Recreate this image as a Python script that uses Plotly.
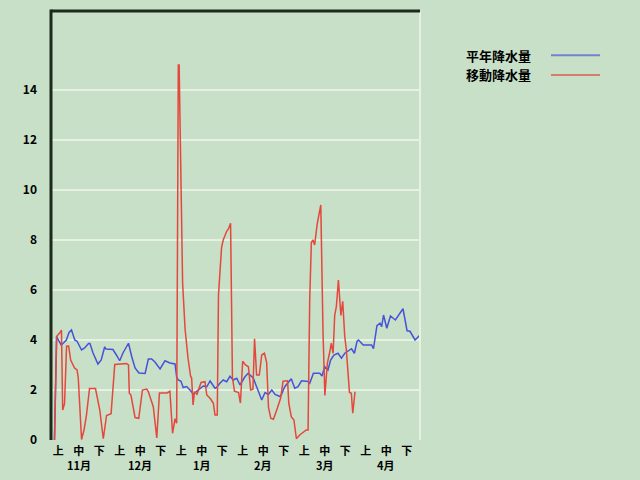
import plotly.graph_objects as go

# x = position along the Nov–Apr season (30 units per month, 10 per 上/中/下 dekad)
normal_x = [1.7, 2.7, 3.9, 5.0, 6.3, 7.5, 8.8, 10.0, 11.6, 12.7, 14.9, 16.4, 18.3, 19.0,
            20.5, 22.0, 22.9, 24.5, 26.2, 26.8, 29.6, 30.2, 31.9, 33.5, 35.1, 36.7, 37.8,
            39.4, 41.0, 42.9, 45.9, 47.5, 49.1, 50.7, 51.6, 53.2, 55.6, 57.2, 58.0, 60.5,
            61.3, 62.1, 63.4, 64.5, 66.2, 67.8, 68.6, 69.4, 71.1, 72.7, 74.3, 76.0, 77.6,
            80.0, 80.8, 82.4, 84.0, 85.7, 87.3, 88.9, 90.6, 92.2, 94.6, 96.2, 98.7, 100.3,
            102.8, 104.4, 106.0, 107.7, 109.3, 111.7, 112.3, 114.0, 117.2, 118.9, 120.5,
            122.2, 125.4, 126.2, 128.0, 131.1, 132.2, 133.5, 135.1, 136.4, 138.0, 140.0,
            141.7, 143.3, 145.0, 146.6, 148.0, 149.3, 150.0, 152.3, 156.4, 157.3, 159.0,
            160.5, 161.3, 162.2, 163.8, 165.6, 168.0, 171.7, 173.7, 175.1, 177.6, 179.2, 180.0]
normal_y = [0, 4.15, 3.95, 3.8, 3.9, 4.0, 4.3, 4.4, 4.0, 3.95, 3.6, 3.68, 3.86, 3.86,
            3.48, 3.2, 3.04, 3.2, 3.73, 3.64, 3.64, 3.62, 3.4, 3.17, 3.48, 3.68, 3.87,
            3.33, 2.88, 2.68, 2.66, 3.24, 3.24, 3.12, 3.0, 2.84, 3.17, 3.09, 3.08, 3.04,
            2.52, 2.4, 2.35, 2.1, 2.14, 2.0, 1.93, 1.84, 1.95, 2.06, 2.16, 2.13, 2.36,
            2.07, 2.1, 2.27, 2.4, 2.33, 2.55, 2.4, 2.47, 2.2, 2.53, 2.67, 2.47, 2.13,
            1.6, 1.9, 1.82, 2.0, 1.82, 1.74, 1.8, 2.13, 2.45, 2.07, 2.13,
            2.37, 2.34, 2.27, 2.67, 2.67, 2.56, 2.93, 2.8, 3.2, 3.4, 3.47,
            3.27, 3.47, 3.57, 3.65, 3.47, 3.95, 4.0, 3.8, 3.8, 3.65, 4.57,
            4.67, 4.53, 5.0, 4.47, 4.96, 4.8, 5.25, 4.37, 4.35, 4.0, 4.13, 4.2]

moving_x = [1.7, 2.8, 4.4, 5.1, 5.7, 6.6, 7.6, 8.6, 9.6, 11.5, 12.7, 13.3, 14.9, 16.1,
            17.2, 18.8, 21.7, 23.8, 25.5, 27.1, 29.3, 31.1, 36.8, 37.8, 38.2, 39.0, 41.0,
            42.8, 44.6, 46.7, 47.5, 49.9, 51.6, 52.9, 56.6, 58.0, 59.3, 60.5, 61.3, 62.1,
            62.5, 63.3, 64.2, 65.4, 66.8, 68.1, 68.6, 69.3, 70.0, 71.2, 71.9, 73.2, 75.1,
            76.0, 77.8, 79.2, 80.0, 81.1, 81.7, 83.2, 84.0, 85.7, 86.6, 87.6, 88.5, 89.5,
            91.5, 92.4, 93.5, 94.9, 96.3, 97.4, 98.5, 99.3, 100.3, 101.6, 102.8, 104.1,
            105.2, 106.1, 107.2, 108.5, 110.1, 111.0, 112.0, 113.2, 115.4, 116.0, 117.2,
            118.5, 119.7, 121.3, 122.9, 124.5, 125.4, 126.2, 127.0, 127.8, 128.6, 129.9,
            131.6, 132.7, 133.6, 134.8, 136.0, 136.7, 137.6, 138.4, 139.2, 140.2, 141.4,
            142.3, 143.3, 144.0, 145.6, 146.5, 147.2, 148.3]
moving_y = [0, 4.15, 4.3, 4.4, 1.2, 1.45, 3.75, 3.76, 3.2, 2.88, 2.8, 2.48, 0.02, 0.4,
            0.93, 2.06, 2.06, 1.2, 0.05, 0.98, 1.05, 3.02, 3.06, 3.0, 1.87, 1.8, 0.9,
            0.87, 2.0, 2.04, 1.93, 1.33, 0.08, 1.88, 1.88, 1.95, 0.27, 0.85, 0.67, 15.0,
            15.0, 10.3, 6.28, 4.45, 3.3, 2.55, 2.48, 1.4, 1.93, 1.83, 2.0, 2.3, 2.33,
            1.8, 1.65, 1.47, 1.0, 1.0, 5.8, 7.7, 8.0, 8.35, 8.45, 8.67, 2.5, 1.95,
            1.9, 1.48, 3.15, 3.0, 2.93, 2.0, 2.03, 4.05, 2.6, 2.6, 3.4, 3.47,
            3.1, 1.3, 0.87, 0.83, 1.2, 1.45, 1.67, 2.35, 2.37, 1.47, 0.93,
            0.8, 0.05, 0.2, 0.29, 0.4, 0.4, 5.6, 7.9, 8.0, 7.8, 8.67,
            9.4, 4.27, 1.78, 3.07, 3.53, 3.87, 3.47, 5.0, 5.33, 6.4, 4.98,
            5.55, 4.13, 3.67, 1.9, 1.87, 1.07, 1.93]

months = ["11月", "12月", "1月", "2月", "3月", "4月"]
dekads = ["上", "中", "下"]
y_ticks = [0, 2, 4, 6, 8, 10, 12, 14]
series_names = ["平年降水量", "移動降水量"]
series_colors = ["#4652d8", "#e4473d"]
legend_colors = ["#7283cc", "#d67d6e"]

tickvals, ticktext = [], []
for m in range(len(months)):
    for k, dk in enumerate(dekads):
        tickvals.append(m * 30 + k * 10 + 3.5)
        ticktext.append(dk)
month_pos = [m * 30 + 13.5 for m in range(len(months))]

BG = "#c8e0c8"
GRID = "#e6f1e2"
DARK = "#1c2a1c"
FONT = "Noto Sans CJK JP"

fig = go.Figure()
fig.add_trace(go.Scatter(x=normal_x, y=normal_y, mode="lines", name=series_names[0],
                         line=dict(color=series_colors[0], width=1.5)))
fig.add_trace(go.Scatter(x=moving_x, y=moving_y, mode="lines", name=series_names[1],
                         line=dict(color=series_colors[1], width=1.5)))

annotations = [
    dict(xref="paper", yref="paper", x=1.12, y=0.897, xanchor="left", yanchor="middle",
         text=series_names[0], showarrow=False,
         font=dict(family=FONT, size=13, color="#000000", weight="bold")),
    dict(xref="paper", yref="paper", x=1.12, y=0.851, xanchor="left", yanchor="middle",
         text=series_names[1], showarrow=False,
         font=dict(family=FONT, size=13, color="#000000", weight="bold")),
]
for pos, month in zip(month_pos, months):
    annotations.append(dict(xref="x", yref="paper", x=pos, y=0, yshift=-25,
                            xanchor="center", yanchor="middle", text=month, showarrow=False,
                            font=dict(family=FONT, size=11, color="#000000", weight="bold")))

fig.update_layout(
    width=640, height=480,
    paper_bgcolor=BG, plot_bgcolor=BG,
    margin=dict(l=51, r=220, t=11, b=40),
    showlegend=False,
    hovermode=False,
    font=dict(family=FONT, color="#000000"),
    xaxis=dict(range=[0, 180], tickmode="array", tickvals=tickvals, ticktext=ticktext,
               showgrid=False, zeroline=False, showline=False, ticks="", automargin=False,
               tickfont=dict(family=FONT, size=11, color="#000000", weight="bold"),
               ticklabelstandoff=3),
    yaxis=dict(range=[0, 17.16], tickmode="array", tickvals=y_ticks,
               showgrid=True, gridcolor=GRID, gridwidth=2, zeroline=False,
               showline=False, ticks="", automargin=False,
               tickfont=dict(family=FONT, size=12, color="#000000", weight="bold"),
               ticklabelstandoff=13),
    shapes=[
        dict(type="line", xref="paper", yref="paper", x0=1, x1=1, y0=0, y1=1,
             line=dict(color=GRID, width=2)),
        dict(type="line", xref="paper", yref="paper", x0=0, x1=1, y0=1, y1=1,
             line=dict(color=DARK, width=3)),
        dict(type="line", xref="paper", yref="paper", x0=0, x1=0, y0=0, y1=1.0035,
             line=dict(color=DARK, width=3)),
        dict(type="line", xref="paper", yref="paper", x0=1.355, x1=1.488, y0=0.897, y1=0.897,
             line=dict(color=legend_colors[0], width=2)),
        dict(type="line", xref="paper", yref="paper", x0=1.355, x1=1.488, y0=0.851, y1=0.851,
             line=dict(color=legend_colors[1], width=2)),
    ],
    annotations=annotations,
)

fig.write_html("out.html", config={"displayModeBar": False},
               post_script="document.body.style.margin='0px';")
